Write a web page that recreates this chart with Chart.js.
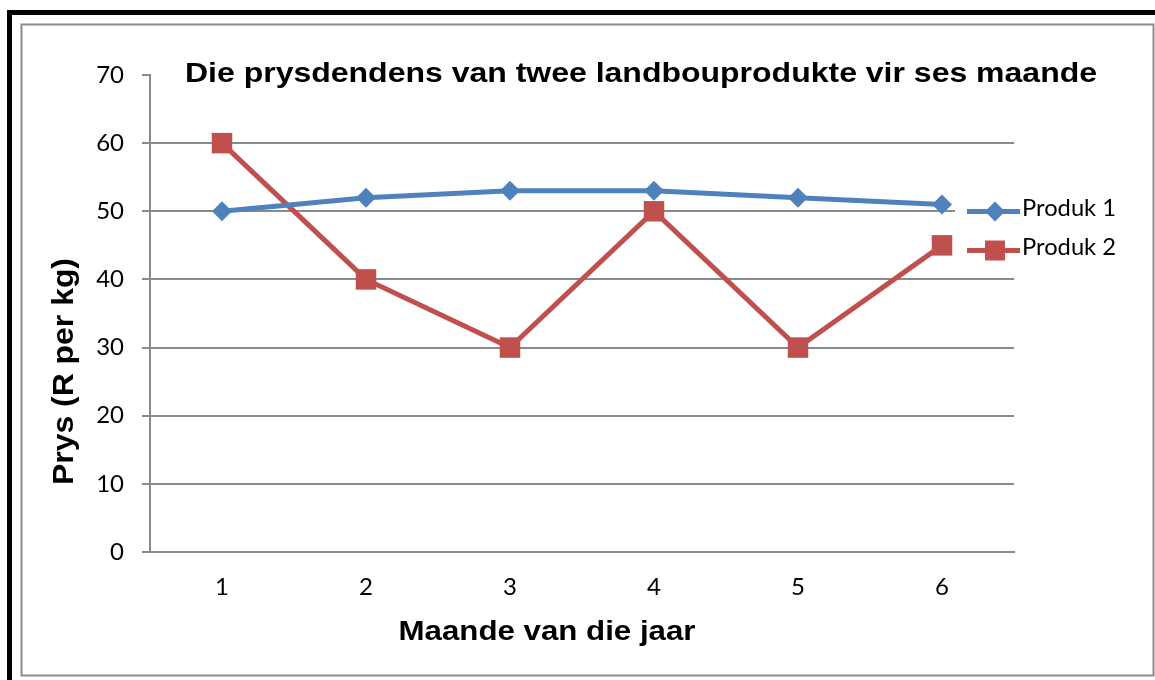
<!DOCTYPE html>
<html><head><meta charset="utf-8">
<script src="https://cdn.jsdelivr.net/npm/chart.js@4/dist/chart.umd.min.js"></script>
<style>html,body{margin:0;padding:0;background:#fff;overflow:hidden}#wrap{width:1155px;height:680px;position:relative}</style>
</head><body><div id="wrap"><canvas id="c" width="1155" height="680"></canvas></div>
<script>
const months = ['1', '2', '3', '4', '5', '6'];
const produk1 = [50, 52, 53, 53, 52, 51];
const produk2 = [60, 40, 30, 50, 30, 45];
const yTicks = [0, 10, 20, 30, 40, 50, 60, 70];
const seriesNames = ['Produk 1', 'Produk 2'];
const chartTitle = 'Die prysdendens van twee landbouprodukte vir ses maande';
const xTitle = 'Maande van die jaar';
const yTitle = 'Prys (R per kg)';

const BLUE = '#4F81BD', RED = '#C0504D', GRID = '#8a8a8a';

function fitText(ctx, text, x, y, targetW, font, rotate) {
  ctx.save();
  ctx.font = font;
  const w = ctx.measureText(text).width;
  const s = targetW / w;
  ctx.translate(x, y);
  if (rotate) ctx.rotate(-Math.PI / 2);
  ctx.scale(s, 1);
  ctx.textAlign = 'center';
  ctx.textBaseline = 'alphabetic';
  ctx.fillStyle = '#000';
  ctx.fillText(text, 0, 0);
  ctx.restore();
}

const deco = {
  id: 'deco',
  beforeDraw(chart) {
    const ctx = chart.ctx;
    ctx.save();
    ctx.fillStyle = '#fff';
    ctx.fillRect(0, 0, chart.width, chart.height);
    ctx.fillStyle = '#000';
    ctx.fillRect(7, 10, 5, 670);
    ctx.fillRect(7, 10, 1148, 5);
    ctx.strokeStyle = '#8c8c8c';
    ctx.lineWidth = 2;
    ctx.strokeRect(21.5, 24.5, 1132, 651);
    ctx.restore();
  },
  afterDraw(chart) {
    const ctx = chart.ctx;
    fitText(ctx, chartTitle, 641, 82, 912, 'bold 28px "Liberation Sans", Arial, sans-serif');
    fitText(ctx, xTitle, 547, 640, 297, 'bold 28px "Liberation Sans", Arial, sans-serif');
    fitText(ctx, yTitle, 73, 371.5, 227, 'bold 30px "Liberation Sans", Arial, sans-serif', true);
    // legend
    ctx.save();
    ctx.fillStyle = '#fff';
    ctx.fillRect(955, 192, 195, 72);
    const ys = [211.5, 250.5];
    const tb = [216, 255];
    chart.data.datasets.forEach((ds, i) => {
      ctx.strokeStyle = ds.borderColor;
      ctx.lineWidth = ds.borderWidth;
      ctx.beginPath();
      ctx.moveTo(967, ys[i]);
      ctx.lineTo(1020, ys[i]);
      ctx.stroke();
      ctx.fillStyle = ds.borderColor;
      ctx.beginPath();
      if (ds.pointStyle === 'rectRot') {
        const r = 10;
        ctx.moveTo(995 - r, ys[i]); ctx.lineTo(995, ys[i] - r);
        ctx.lineTo(995 + r, ys[i]); ctx.lineTo(995, ys[i] + r);
        ctx.closePath();
      } else {
        ctx.rect(985, ys[i] - 10, 20, 20);
      }
      ctx.fill();
      ctx.save();
      ctx.font = '24px Lato, "Open Sans", sans-serif';
      const w = ctx.measureText(ds.label).width;
      ctx.translate(1022, tb[i]);
      ctx.scale(94 / w, 1);
      ctx.fillStyle = '#000';
      ctx.textAlign = 'left';
      ctx.textBaseline = 'alphabetic';
      ctx.fillText(ds.label, 0, 0);
      ctx.restore();
    });
    ctx.restore();
  }
};

new Chart(document.getElementById('c'), {
  type: 'line',
  data: {
    labels: months,
    datasets: [
      {
        label: seriesNames[0], data: produk1,
        borderColor: BLUE, backgroundColor: BLUE, borderWidth: 5,
        pointStyle: 'rectRot', pointRadius: 10, pointHoverRadius: 10,
        pointBackgroundColor: BLUE, pointBorderColor: BLUE, pointBorderWidth: 0,
        tension: 0, clip: false
      },
      {
        label: seriesNames[1], data: produk2,
        borderColor: RED, backgroundColor: RED, borderWidth: 5,
        pointStyle: 'rect', pointRadius: 14.5, pointHoverRadius: 14.5,
        pointBackgroundColor: RED, pointBorderColor: RED, pointBorderWidth: 0,
        tension: 0, clip: false
      }
    ]
  },
  options: {
    responsive: false,
    animation: false,
    devicePixelRatio: 1,
    layout: { padding: { top: 75, right: 141, left: 0, bottom: 0 } },
    plugins: { legend: { display: false }, title: { display: false }, tooltip: { enabled: false } },
    scales: {
      x: {
        type: 'category',
        offset: true,
        grid: { display: true, drawOnChartArea: false, drawTicks: false },
        border: { display: true, color: GRID, width: 2 },
        ticks: { color: '#000', font: { family: 'Lato', size: 24 }, padding: 21, maxRotation: 0 },
        afterFit(s) { s.height = 128; }
      },
      y: {
        min: 0, max: 70,
        afterBuildTicks(s) { s.ticks = yTicks.map(v => ({ value: v })); },
        grid: {
          color: (c) => (c.tick && c.tick.value === 70) ? 'rgba(0,0,0,0)' : GRID,
          tickColor: GRID, lineWidth: 2, tickLength: 8
        },
        border: { display: true, color: GRID, width: 2 },
        ticks: { color: '#000', font: { family: 'Lato', size: 24 }, padding: 18 },
        afterFit(s) { s.width = 150; }
      }
    }
  },
  plugins: [deco]
});
</script>
</body></html>
